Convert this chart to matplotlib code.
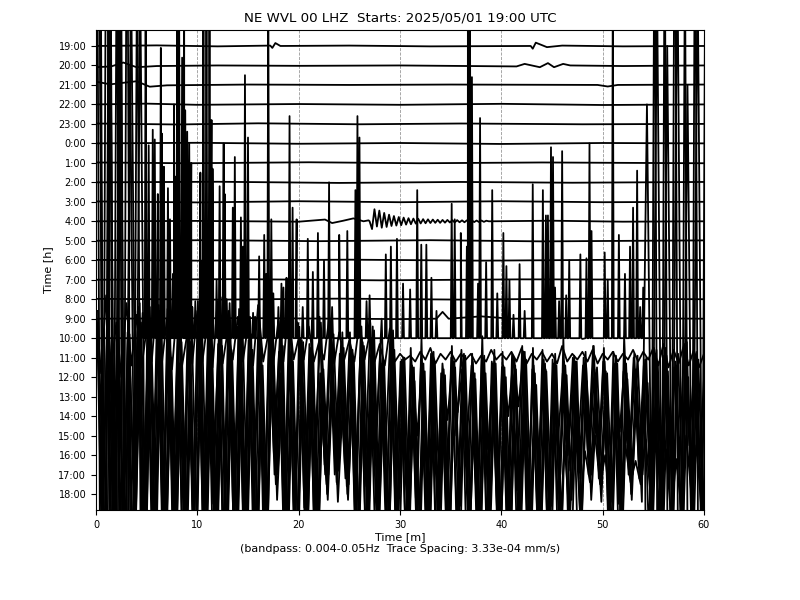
import numpy as np
import matplotlib
matplotlib.use('Agg')
import matplotlib.pyplot as plt

# hour rows, top to bottom
hours = ['19:00', '20:00', '21:00', '22:00', '23:00', '0:00', '1:00', '2:00',
         '3:00', '4:00', '5:00', '6:00', '7:00', '8:00', '9:00', '10:00',
         '11:00', '12:00', '13:00', '14:00', '15:00', '16:00', '17:00', '18:00']

title = 'NE WVL 00 LHZ  Starts: 2025/05/01 19:00 UTC'
xlabel = 'Time [m]\n(bandpass: 0.004-0.05Hz  Trace Spacing: 3.33e-04 mm/s)'

# quiet rows: (minute, offset in trace spacings)
quiet = {
    '19:00': [(0, 0.0), (6, 0.03), (12, -0.02), (17.2, 0.02), (17.4, -0.1), (17.7, 0.15),
              (18.2, 0.0), (25, 0.02), (33, -0.02), (42.9, 0.0), (43.1, -0.14), (43.4, 0.17),
              (44.5, -0.06), (46, 0.02), (52, -0.02), (60, 0.0)],
    '20:00': [(0, -0.09), (1.5, -0.05), (2.7, 0.15), (4.0, -0.09), (6, -0.03), (12, 0.0),
              (20, -0.02), (30, 0.0), (41.5, -0.05), (42.3, 0.08), (43.8, -0.09), (44.6, 0.12),
              (45.2, -0.09), (46.1, 0.08), (46.8, 0.0), (52, -0.03), (60, 0.0)],
    '21:00': [(0, 0.17), (1.4, 0.03), (4.0, 0.19), (5.3, -0.09), (7, -0.02), (15, 0.02),
              (25, 0.0), (35, 0.02), (49.5, 0.0), (50.5, -0.08), (51.5, 0.0), (60, 0.02)],
    '22:00': [(0, 0.0), (5, 0.04), (10, -0.02), (20, 0.02), (30, -0.02), (40, 0.03),
              (50, -0.03), (60, 0.0)],
    '23:00': [(0, 0.02), (8, -0.03), (16, 0.03), (26, -0.02), (36, 0.02), (48, -0.02), (60, 0.0)],
    '0:00': [(0, 0.0), (10, 0.03), (20, -0.02), (30, 0.02), (40, -0.03), (50, 0.02), (60, 0.0)],
    '1:00': [(0, 0.02), (9, -0.02), (21, 0.03), (32, -0.02), (44, 0.02), (60, -0.02)],
    '2:00': [(0, 0.0), (12, 0.03), (24, -0.03), (36, 0.02), (47, -0.02), (60, 0.02)],
    '3:00': [(0, 0.02), (10, -0.03), (20, 0.03), (30, -0.02), (40, 0.03), (50, -0.02), (60, 0.0)],
    '4:00': [(0, 0.0), (10, 0.02), (20, -0.02), (22.6, 0.09), (23.3, -0.09), (24.4, 0.03),
             (25.4, 0.15), (26.4, 0.0), (26.9, 0.05), (38.9, 0.0), (45, 0.03), (52, -0.02), (60, 0.0)],
    '5:00': [(0, 0.0), (11, 0.03), (22, -0.02), (33, 0.03), (44, -0.03), (60, 0.02)],
    '6:00': [(0, 0.02), (10, -0.02), (25, 0.03), (38, -0.02), (50, 0.02), (60, 0.0)],
    '7:00': [(0, 0.0), (14, 0.03), (28, -0.03), (42, 0.02), (60, 0.0)],
    '8:00': [(0, 0.02), (12, -0.02), (24, 0.03), (36, -0.02), (48, 0.03), (60, 0.0)],
    '9:00': [(0, 0.0), (15, 0.03), (30, -0.02), (33.6, 0.0), (34.2, 0.35), (34.8, 0.0),
             (38, 0.12), (41, 0.0), (50, 0.03), (60, 0.0)],
    '10:00': [(0, 0.0), (12, 0.04), (24, -0.03), (36, 0.03), (48, -0.04), (60, 0.0)],
}

# 4:00 event, one value every 0.24 min from 27.0 min
quake_start = 27.0
quake_step = 0.24
quake_4h = [0.0, -0.40, 0.62, -0.27, 0.55, -0.33, 0.43, -0.29, 0.34, -0.24, 0.27, -0.22,
            0.22, -0.20, 0.19, -0.17, 0.16, -0.15, 0.14, -0.12, 0.13, -0.11, 0.11, -0.10,
            0.10, -0.09, 0.09, -0.08, 0.08, -0.08, 0.07, -0.07, 0.07, -0.06, 0.06, -0.06,
            0.06, -0.05, 0.05, -0.05, 0.05, -0.04, 0.05, -0.04, 0.04, -0.04, 0.04, -0.03,
            0.03, 0.0]

# spikes rising from the 10:00 row: (minute, height in trace spacings)
spikes_10h = [
    (4.6, 1.3), (4.9, 18), (5.2, 9.9), (5.6, 10.7), (5.8, 10.2), (6.1, 7.4), (6.2, 1.4),
    (6.4, 14.9), (6.5, 10.5), (6.6, 2.3), (6.7, 8.8), (7.1, 7.7), (7.3, 6.1), (7.6, 3.3),
    (7.7, 12.0), (7.9, 8.3), (8.0, 18), (8.1, 5.4), (8.2, 18), (8.5, 14.4), (8.7, 18),
    (8.8, 11.7), (9.0, 10.6), (9.2, 10.0), (9.4, 9.0), (9.5, 1.6), (9.8, 1.9), (10.3, 8.5),
    (10.4, 3.9), (10.6, 18), (10.9, 18), (11.2, 18), (11.4, 11.2), (11.5, 8.7), (11.9, 3.0),
    (12.2, 7.8), (12.6, 10.0), (12.7, 7.4), (12.9, 2.0), (13.5, 6.7), (13.7, 9.3), (14.0, 0.6),
    (14.3, 6.2), (14.5, 4.7), (14.7, 13.5), (15.0, 10.3), (15.5, 1.3), (15.7, 1.1),
    (16.1, 4.2), (16.6, 5.3), (16.8, 3.3), (17.0, 18), (17.3, 6.1), (17.5, 2.3), (18.0, 1.6),
    (18.3, 2.8), (18.5, 2.6), (18.8, 3.1), (18.9, 3.0), (19.1, 11.4), (19.4, 6.7),
    (19.8, 6.1), (19.9, 0.8), (20.4, 1.6), (20.9, 5.1), (21.4, 3.4), (21.9, 5.4), (22.5, 4.0),
    (23.0, 8.0), (23.3, 1.6), (24.0, 5.3), (24.8, 5.5), (25.6, 7.6), (25.8, 11.4), (26.0, 10.3),
    (26.7, 1.9), (27.0, 2.2), (28.6, 4.3), (29.1, 4.7), (29.7, 5.1), (30.3, 2.8), (31.0, 2.5),
    (31.7, 7.6), (32.1, 4.8), (32.6, 4.8), (33.1, 3.1), (33.6, 1.4), (35.1, 6.9), (35.4, 6.1),
    (36.0, 5.4), (36.6, 4.7), (36.7, 18), (36.9, 18), (37.1, 13.4), (37.7, 2.8), (37.9, 11.3),
    (38.5, 3.9), (39.1, 7.6), (39.6, 2.3), (40.2, 5.4), (40.5, 3.7), (40.8, 3.0), (41.2, 1.2),
    (41.8, 3.8), (42.3, 1.4), (43.1, 7.9), (44.1, 7.6), (44.4, 6.3), (44.6, 6.3), (44.9, 9.8),
    (45.1, 9.3), (45.3, 2.6), (45.7, 1.9), (46.0, 9.6), (46.4, 2.2), (46.7, 4.0), (47.8, 4.3),
    (48.4, 4.1), (48.7, 10.0), (48.9, 5.5), (50.2, 4.4), (50.5, 3.0), (51.0, 18), (51.6, 5.3),
    (52.2, 3.3), (52.7, 4.7), (53.0, 6.7), (53.4, 8.6), (53.7, 1.6), (54.0, 2.6),
]

# noisy rows, one value every 0.5 min (tenths of a trace spacing)
noise = {
    '11:00': [25, -8, 32, -6, 18, -10, 28, -4, 22, -5, 15, -2, 30, -3, 20, -6, 26, -4, 12, -3,
              24, -2, 18, -5, 29, -3, 14, -1, 21, -2, 17, -4, 27, -2, 12, -3, 19, -2, 25, -1,
              10, -1, 16, -2, 8, -1, 20, -3, 13, -1, 9, -2, 18, -1, 12, -2, 7, -4, 15, -2,
              2, -1, 1, -2, 3, -1, 5, -3, 2, -1, 3, -2, 2, -1, 2, -3, 1, -2, 4, -1,
              2, -1, 3, -2, 5, -3, 2, -1, 3, -2, 2, -3, 6, -2, 2, -1, 3, -2, 4, -3,
              2, -1, 3, -2, 2, -1, 4, -2, 3, -1, 5, -4, 7, -5, 4, -3, 6, -4, 4, -5, 2],
    '12:00': [34, -55, 38, -42, 30, -68, 27, -47, 36, -60, 29, -38, 37, -63, 22, -50, 40, -44, 28, -71,
              25, -58, 33, -35, 28, -49, 38, -66, 20, -52, 31, -40, 24, -62, 35, -30, 26, -48, 32, -57,
              20, -45, 15, -28, 28, -35, 24, -33, 18, -40, 14, -43, 26, -56, 20, -25, 30, -64, 16, -38,
              9, -52, 6, -30, 5, -47, 12, -58, 7, -22, 10, -18, 5, -45, 8, -60, 4, -37, 7, -55,
              6, -20, 10, -15, 13, -54, 6, -41, 9, -63, 5, -58, 8, -33, 11, -49, 7, -40, 4, -40,
              8, -52, 6, -28, 10, -40, 4, -45, 9, -57, 12, -64, 15, -40, 8, -70, 16, -48, 11, -59, 5],
    '13:00': [320, -280, 350, -300, 260, -340, 300, -290, 240, -220, 42, -64, 50, -78, 45, -58, 33, -85, 40, -61,
              49, -72, 36, -55, 27, -80, 44, -66, 31, -74, 29, -59, 47, -82, 34, -30, 23, -70, 42, -76,
              36, -57, 27, -73, 41, -35, 30, -40, 22, -35, 33, -68, 20, -40, 38, -35, 24, -30, 34, -60,
              18, -75, 25, -52, 15, -69, 22, -81, 12, -58, 20, -20, 24, -25, 16, -66, 20, -73, 18, -56,
              15, -71, 22, -48, 26, -77, 14, -63, 24, -70, 19, -25, 12, -30, 20, -28, 16, -30, 26, -35,
              18, -67, 23, -55, 13, -40, 20, -35, 16, -72, 25, -65, 21, -42, 15, -30, 27, -25, 20, -36, 16],
    '14:00': [300, -280, 330, -310, 270, -350, 42, -69, 58, -78, 56, -61, 48, -90, 43, -64, 64, -77, 38, -83,
              45, -88, 51, -66, 61, -73, 34, -82, 49, -70, 42, -80, 35, -74, 54, -30, 46, -68, 33, -78,
              39, -61, 49, -71, 29, -40, 36, -35, 43, -40, 34, -72, 38, -56, 46, -66, 30, -70, 44, -59,
              30, -63, 22, -73, 27, -54, 33, -67, 24, -71, 28, -30, 32, -64, 20, -68, 31, -61, 34, -65,
              25, -74, 29, -59, 33, -66, 22, -72, 27, -63, 32, -30, 26, -28, 28, -32, 33, -30, 22, -35,
              23, -68, 31, -56, 27, -40, 24, -30, 30, -64, 34, -67, 31, -81, 26, -74, 38, -70, 33, -79, 26],
    '15:00': [280, -300, 260, -320, 290, -270, 250, -41, 58, -52, 54, -44, 62, -50, 40, -58, 48, -45, 57, -46,
              61, -42, 50, -57, 46, -62, 41, -52, 60, -40, 44, -53, 36, -48, 56, -20, 46, -60, 38, -50,
              48, -38, 41, -54, 34, -20, 52, -18, 45, -25, 40, -49, 46, -35, 54, -42, 37, -50, 44, -32,
              40, -41, 28, -46, 33, -56, 38, -37, 31, -48, 35, -36, 41, -44, 29, -52, 32, -33, 37, -54,
              30, -48, 34, -37, 39, -40, 26, -49, 33, -36, 36, -53, 31, -33, 38, -44, 28, -20, 35, -20,
              32, -34, 37, -52, 29, -20, 41, -20, 27, -49, 38, -57, 33, -50, 42, -46, 30, -60, 39, -44, 29],
    '16:00': [66, -58, 77, -69, 55, -80, 63, -53, 74, -61, 56, -75, 68, -49, 79, -60, 52, -71, 61, -56,
              69, -55, 49, -72, 60, -66, 55, -47, 75, -58, 50, -69, 58, -45, 64, -10, 41, -63, 53, -49,
              60, -39, 47, -58, 42, -10, 56, -8, 38, -12, 52, -44, 61, -49, 39, -56, 47, -42, 58, -52,
              42, -55, 50, -38, 60, -47, 45, -56, 39, -49, 56, -45, 44, -60, 52, -39, 61, -50, 47, -42,
              53, -49, 41, -61, 49, -44, 55, -52, 42, -56, 47, -56, 60, -42, 39, -63, 50, -10, 56, -12,
              55, -44, 47, -53, 61, -10, 52, -12, 44, -320, 300, -350, 280, -310, 330, -290, 260, -340, 310, -300, 250],
    '17:00': [58, -50, 68, -43, 63, -55, 48, -62, 53, -47, 50, -60, 45, -52, 65, -42, 57, -48, 43, -58,
              55, -45, 63, -53, 40, -60, 50, -43, 62, -48, 47, -57, 37, -50, 58, -5, 52, -45, 33, -55,
              42, -33, 52, -47, 32, -5, 48, -4, 57, -6, 45, -40, 30, -50, 38, -32, 47, -42, 35, -28,
              37, -25, 43, -35, 28, -40, 33, -22, 42, -32, 27, -37, 40, -30, 20, -33, 45, -23, 32, -38,
              35, -20, 25, -32, 38, -27, 18, -35, 30, -22, 23, -30, 15, -25, 33, -18, 12, -4, 20, -5,
              10, -17, 22, -8, 15, -4, 7, -5, 18, -12, 25, -15, 13, -22, 8, -17, 20, -10, 15, -18, 8],
    '18:00': [250, -80, 280, -60, 300, -90, 220, -70, 260, -50, 75, -55, 84, -48, 65, -41, 78, -57, 61, -52,
              81, -45, 70, -56, 63, -38, 74, -49, 58, -41, 68, -52, 61, -34, 78, -3, 54, -27, 65, -48,
              57, -25, 72, -41, 52, -3, 62, -4, 48, -3, 60, -42, 53, -33, 69, -27, 49, -38, 64, -45,
              54, -35, 65, -48, 45, -29, 61, -41, 50, -34, 68, -40, 56, -30, 62, -46, 52, -26, 60, -37,
              49, -44, 66, -33, 57, -38, 48, -27, 64, -42, 53, -31, 61, -41, 46, -24, 65, -3, 42, -4,
              58, -37, 50, -29, 62, -3, 54, -4, 200, -40, 260, -60, 230, -45, 280, -70, 210, -55, 270, -65, 150],
}
noise_step = 0.5
# sampling phase of each noisy row, minutes
noise_phase = {'11:00': 0.0, '12:00': 0.19, '13:00': 0.06, '14:00': 0.31,
               '15:00': 0.44, '16:00': 0.12, '17:00': 0.25, '18:00': 0.37}


def trace_xy(name):
    if name in noise:
        vals = np.array(noise[name]) / 10.0
        return noise_phase[name] + np.arange(len(vals)) * noise_step, vals
    pts = list(quiet.get(name, []))
    if name == '4:00':
        end = quake_start + quake_step * (len(quake_4h) - 1)
        pts = [p for p in pts if not (quake_start <= p[0] <= end)]
        pts += [(quake_start + quake_step * k, v) for k, v in enumerate(quake_4h)]
    if name == '10:00':
        for m, h in spikes_10h:
            pts += [(m - 0.09, 0.0), (m, h), (m + 0.09, 0.0)]
    pts.sort(key=lambda p: p[0])
    return np.array([p[0] for p in pts]), np.array([p[1] for p in pts])


fig = plt.figure(figsize=(8, 6), dpi=100)
ax = fig.add_axes([0.12, 0.15, 0.76, 0.80])

for i, name in enumerate(hours):
    x, y = trace_xy(name)
    ax.plot(x, y - i, color='black', lw=1.3)

ax.set_xlim(0, 60)
ax.set_ylim(-len(hours) + 1 - 0.82, 0.82)
ax.set_xticks(range(0, 61, 10))
ax.set_yticks([-i for i in range(len(hours))])
ax.set_yticklabels(hours)
ax.tick_params(labelsize=7)
ax.xaxis.grid(True, linestyle='--', color='0.6', lw=0.6)
ax.set_title(title, fontsize=9.6)
ax.set_xlabel(xlabel, fontsize=8, labelpad=2)
ax.set_ylabel('Time [h]', fontsize=8)

plt.savefig('out.png', dpi=100)
